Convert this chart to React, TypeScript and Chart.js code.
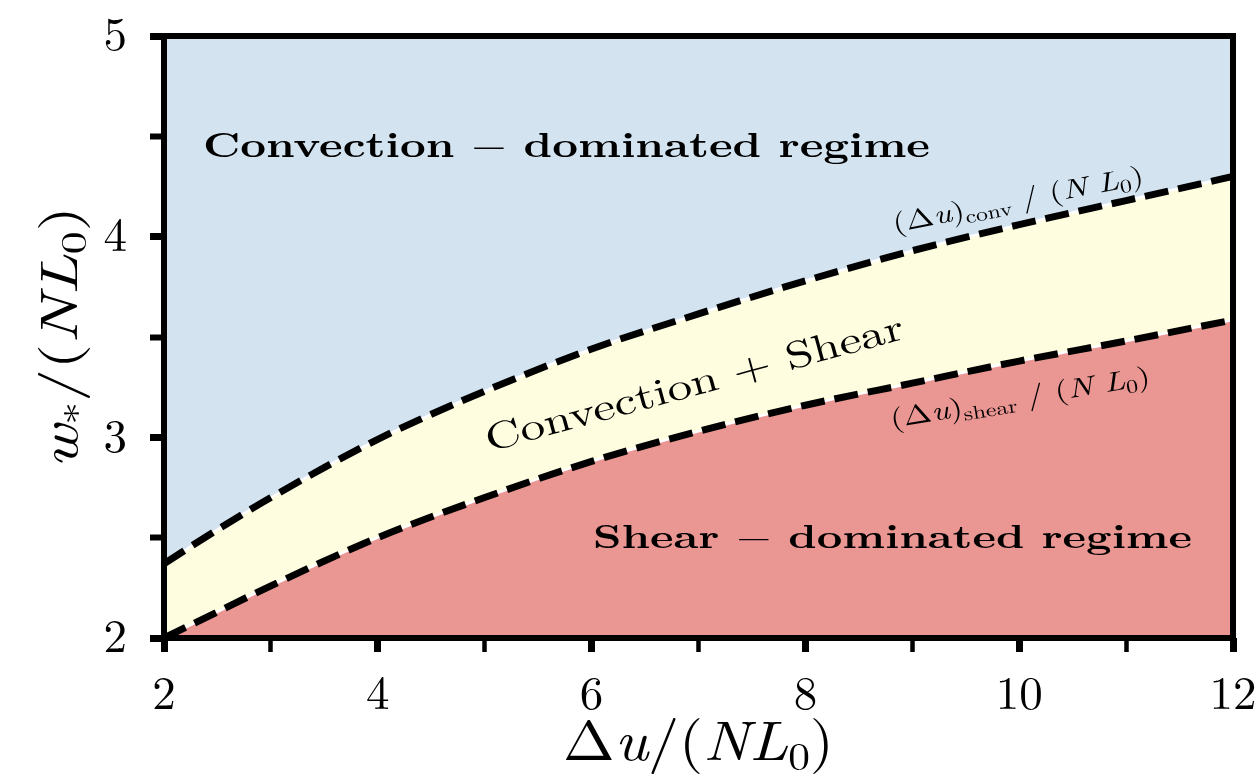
import React, { useEffect, useRef } from 'react';
import { Chart, registerables } from 'chart.js';

Chart.register(...registerables);

// ---- data ----
const xValues = [2, 2.5, 3, 4, 5, 6, 7, 8, 9, 10, 11, 12];
const convBoundary = [2.37, 2.54, 2.7, 2.99, 3.23, 3.44, 3.615, 3.78, 3.93, 4.06, 4.18, 4.3];
const shearBoundary = [2.0, 2.13, 2.26, 2.5, 2.7, 2.88, 3.03, 3.16, 3.27, 3.38, 3.48, 3.585];
const yTopValues = [5, 5, 5, 5, 5, 5, 5, 5, 5, 5, 5, 5];
const xTickLabels = ['2', '4', '6', '8', '10', '12'];
const yTickLabels = ['2', '3', '4', '5'];

const COLORS = {
  conv: '#d3e4f0',
  mixed: '#fefde0',
  shear: '#ea9692',
};

const FONT = 'Latin Modern Roman';

type Seg = { t: string; it?: boolean; sub?: boolean; star?: boolean; w?: string };
type RichOpts = {
  x: number;
  y: number;
  angle: number;
  size: number;
  width: number;
  family: string;
  weight: string;
  anchor: 'mid' | 'base';
};

function segFont(s: Seg, o: RichOpts) {
  const sz = s.sub || s.star ? o.size * 0.7 : o.size;
  return `${s.it ? 'italic ' : ''}${s.w || o.weight} ${sz}px "${o.family}"`;
}

function drawRich(ctx: CanvasRenderingContext2D, segs: Seg[], o: RichOpts) {
  ctx.save();
  const ws: number[] = [];
  let W = 0;
  for (const s of segs) {
    ctx.font = segFont(s, o);
    const w = ctx.measureText(s.t).width;
    ws.push(w);
    W += w;
  }
  const sx = o.width ? o.width / W : 1;
  ctx.translate(o.x, o.y);
  ctx.rotate((o.angle * Math.PI) / 180);
  ctx.scale(sx, 1);
  ctx.fillStyle = '#000';
  ctx.textAlign = 'left';
  ctx.textBaseline = 'alphabetic';
  const base = o.anchor === 'mid' ? 0.34 * o.size : 0;
  let cx = -W / 2;
  segs.forEach((s, i) => {
    ctx.font = segFont(s, o);
    const dy = s.sub ? 0.18 * o.size : s.star ? 0.26 * o.size : 0;
    ctx.fillText(s.t, cx, base + dy);
    cx += ws[i];
  });
  ctx.restore();
}

const regionLabels: { segs: Seg[]; dx: number; dy: number; angle: number; size: number; width: number; weight: string }[] = [
  {
    segs: [{ t: 'Convection ' }, { t: '−', w: 'normal' }, { t: ' dominated regime' }],
    dx: 5.765, dy: 4.456, angle: 0, size: 35, width: 727, weight: 'bold',
  },
  {
    segs: [{ t: 'Shear ' }, { t: '−', w: 'normal' }, { t: ' dominated regime' }],
    dx: 8.815, dy: 2.506, angle: 0, size: 33.5, width: 599, weight: 'bold',
  },
  { segs: [{ t: 'Convection + Shear' }], dx: 6.958, dy: 3.273, angle: -15.2, size: 38, width: 432, weight: 'normal' },
  {
    segs: [{ t: '(Δ' }, { t: 'u', it: true }, { t: ')' }, { t: 'conv', sub: true }, { t: ' / (' }, { t: 'N', it: true }, { t: ' ' }, { t: 'L', it: true }, { t: '0', sub: true }, { t: ')' }],
    dx: 9.989, dy: 4.187, angle: -11, size: 27, width: 255, weight: 'normal',
  },
  {
    segs: [{ t: '(Δ' }, { t: 'u', it: true }, { t: ')' }, { t: 'shear', sub: true }, { t: ' / (' }, { t: 'N', it: true }, { t: ' ' }, { t: 'L', it: true }, { t: '0', sub: true }, { t: ')' }],
    dx: 10.007, dy: 3.2, angle: -9.5, size: 27, width: 263, weight: 'normal',
  },
];

const xTitle: Seg[] = [{ t: 'Δ' }, { t: 'u', it: true }, { t: '/(' }, { t: 'NL', it: true }, { t: '0', sub: true }, { t: ')' }];
const yTitle: Seg[] = [{ t: 'w', it: true }, { t: '*', star: true }, { t: '/(' }, { t: 'NL', it: true }, { t: '0', sub: true }, { t: ')' }];

const overlayPlugin = {
  id: 'overlay',
  afterDatasetsDraw(chart: any) {
    const { ctx, chartArea: a, scales } = chart;
    ctx.save();
    ctx.strokeStyle = '#000';
    ctx.lineWidth = 6;
    ctx.strokeRect(a.left, a.top, a.right - a.left, a.bottom - a.top);
    ctx.restore();
    for (const L of regionLabels) {
      drawRich(ctx, L.segs, {
        x: scales.x.getPixelForValue(L.dx),
        y: scales.y.getPixelForValue(L.dy),
        angle: L.angle,
        size: L.size,
        width: L.width,
        family: FONT,
        weight: L.weight,
        anchor: 'mid',
      });
    }
    drawRich(ctx, xTitle, {
      x: (a.left + a.right) / 2,
      y: a.bottom + 122,
      angle: 0,
      size: 56,
      width: 271,
      family: FONT,
      weight: 'normal',
      anchor: 'base',
    });
    drawRich(ctx, yTitle, {
      x: a.left - 87,
      y: (a.top + a.bottom) / 2,
      angle: -90,
      size: 52,
      width: 262,
      family: FONT,
      weight: 'normal',
      anchor: 'base',
    });
  },
};

const pts = (ys: number[]) => xValues.map((x, i) => ({ x, y: ys[i] }));

export default function App() {
  const ref = useRef<HTMLCanvasElement | null>(null);
  useEffect(() => {
    if (!ref.current) return;
    const tickWidth = (c: any) => {
      const v = c.tick ? c.tick.value : 0;
      return c.scale.axis === 'x' ? (v % 2 === 0 ? 7 : 4.5) : Number.isInteger(v) ? 7 : 6;
    };
    const common = {
      cubicInterpolationMode: 'monotone' as const,
      pointRadius: 0,
    };
    const chart = new Chart(ref.current, {
      type: 'line',
      data: {
        datasets: [
          { ...common, data: pts(shearBoundary), fill: 'start', backgroundColor: COLORS.shear, borderWidth: 0, order: 3 },
          { ...common, data: pts(convBoundary), fill: '-1', backgroundColor: COLORS.mixed, borderWidth: 0, order: 3 },
          { ...common, data: pts(yTopValues), fill: '-1', backgroundColor: COLORS.conv, borderWidth: 0, order: 3 },
          { ...common, data: pts(shearBoundary), fill: false, borderColor: '#ffffff', borderWidth: 2.5, order: 2 },
          { ...common, data: pts(convBoundary), fill: false, borderColor: '#ffffff', borderWidth: 2.5, order: 2 },
          { ...common, data: pts(shearBoundary), fill: false, borderColor: '#000000', borderWidth: 7, borderDash: [24, 10], borderCapStyle: 'butt', order: 1 },
          { ...common, data: pts(convBoundary), fill: false, borderColor: '#000000', borderWidth: 7, borderDash: [24, 10], borderCapStyle: 'butt', order: 1 },
        ] as any,
      },
      options: {
        responsive: false,
        animation: false,
        layout: { padding: { left: 0, top: 36, right: 25, bottom: 0 } },
        plugins: {
          legend: { display: false },
          tooltip: { enabled: false },
          filler: { drawTime: 'beforeDatasetsDraw' } as any,
        },
        scales: {
          x: {
            type: 'linear',
            min: 2,
            max: 12,
            border: { display: false },
            grid: { drawOnChartArea: false, drawTicks: true, tickLength: 14, tickColor: '#000', tickWidth } as any,
            ticks: {
              stepSize: 1,
              autoSkip: false,
              maxRotation: 0,
              padding: 14,
              color: '#000',
              font: { family: FONT, size: 47 },
              callback: (v: any) => (xTickLabels.includes(String(v)) ? String(v) : ''),
            },
            afterFit: (s: any) => {
              s.height = 144;
              s.paddingLeft = 0;
              s.paddingRight = 0;
            },
          },
          y: {
            type: 'linear',
            min: 2,
            max: 5,
            border: { display: false },
            grid: { drawOnChartArea: false, drawTicks: true, tickLength: 14, tickColor: '#000', tickWidth } as any,
            ticks: {
              stepSize: 0.5,
              autoSkip: false,
              padding: 23,
              color: '#000',
              font: { family: FONT, size: 47 },
              callback: (v: any) => (yTickLabels.includes(String(v)) ? String(v) : ''),
            },
            afterFit: (s: any) => {
              s.width = 164;
              s.paddingTop = 0;
              s.paddingBottom = 0;
            },
          },
        },
      },
      plugins: [overlayPlugin],
    });
    return () => chart.destroy();
  }, []);
  return (
    <div style={{ position: 'fixed', left: 0, top: 0, width: 1258, height: 782, background: '#fff' }}>
      <canvas ref={ref} width={1258} height={782} style={{ display: 'block' }} />
    </div>
  );
}
